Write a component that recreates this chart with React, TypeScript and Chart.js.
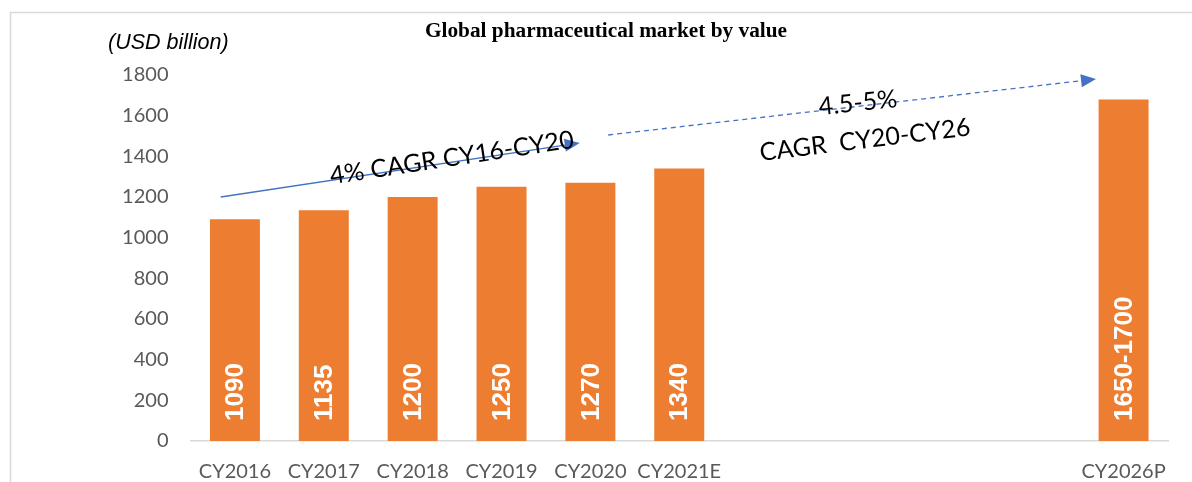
import React, { useEffect, useRef } from "react";
import { Chart, registerables } from "chart.js";

Chart.register(...registerables);

const categories = ["CY2016", "CY2017", "CY2018", "CY2019", "CY2020", "CY2021E", "", "", "", "", "CY2026P"];
const values: (number | null)[] = [1090, 1135, 1200, 1250, 1270, 1340, null, null, null, null, 1680];
const valueLabels = ["1090", "1135", "1200", "1250", "1270", "1340", "", "", "", "", "1650-1700"];
const yTicks = [0, 200, 400, 600, 800, 1000, 1200, 1400, 1600, 1800];
const titleText = "Global pharmaceutical market by value";
const unitText = "(USD billion)";
// arrows in data coordinates: [xIndexStart, yStart, xIndexEnd, yEnd]
const solidArrow = [-0.16, 1200, 3.88, 1466];
const dashedArrow = [4.2, 1505, 9.69, 1780];
const notes = [
  { text: "4% CAGR CY16-CY20", x: 2.44, y: 1392, angle: -8.6 },
  { text: "4.5-5%", x: 7.01, y: 1662, angle: -6 },
  { text: "CAGR  CY20-CY26", x: 7.09, y: 1480, angle: -7 },
];

const BAR = "#ED7D31";
const BLUE = "#4472C4";
const AXIS_TEXT = "#595959";
const SANS = "Lato, 'Open Sans', sans-serif";

const decor = {
  id: "decor",
  afterDatasetsDraw(chart: any) {
    const { ctx } = chart;
    const xs = chart.scales.x;
    const ys = chart.scales.y;
    const px = (i: number) => xs.getPixelForValue(0) + i * (xs.getPixelForValue(1) - xs.getPixelForValue(0));
    ctx.save();
    // frame
    ctx.strokeStyle = "#d9d9d9";
    ctx.lineWidth = 1.5;
    ctx.strokeRect(10.5, 12.5, 1300, 600);
    // title
    ctx.fillStyle = "#000";
    ctx.font = "bold 21.3px 'Liberation Serif', 'Times New Roman', serif";
    ctx.textAlign = "center";
    ctx.textBaseline = "alphabetic";
    ctx.fillText(titleText, 606, 37);
    // unit
    ctx.font = "italic 21.5px 'Liberation Sans', Arial, sans-serif";
    ctx.textAlign = "left";
    ctx.fillText(unitText, 108, 49);
    // value labels
    const meta = chart.getDatasetMeta(0);
    ctx.fillStyle = "#fff";
    ctx.font = "bold 26px 'Liberation Sans', Arial, sans-serif";
    meta.data.forEach((bar: any, i: number) => {
      if (!valueLabels[i]) return;
      ctx.save();
      ctx.translate(bar.x, ys.getPixelForValue(0) - 20);
      ctx.rotate(-Math.PI / 2);
      ctx.textAlign = "left";
      ctx.textBaseline = "middle";
      ctx.fillText(valueLabels[i], 0, 1);
      ctx.restore();
    });
    // arrows
    const drawArrow = (a: number[], dashed: boolean) => {
      const x1 = px(a[0]), y1 = ys.getPixelForValue(a[1]);
      const x2 = px(a[2]), y2 = ys.getPixelForValue(a[3]);
      const ang = Math.atan2(y2 - y1, x2 - x1);
      const head = 15;
      const bx = x2 - head * Math.cos(ang), by = y2 - head * Math.sin(ang);
      ctx.strokeStyle = BLUE;
      ctx.fillStyle = BLUE;
      ctx.lineWidth = 1.3;
      ctx.setLineDash(dashed ? [5, 4] : []);
      ctx.beginPath();
      ctx.moveTo(x1, y1);
      ctx.lineTo(bx, by);
      ctx.stroke();
      ctx.setLineDash([]);
      const w = 6.5;
      ctx.beginPath();
      ctx.moveTo(x2, y2);
      ctx.lineTo(bx + w * Math.sin(ang), by - w * Math.cos(ang));
      ctx.lineTo(bx - w * Math.sin(ang), by + w * Math.cos(ang));
      ctx.closePath();
      ctx.fill();
    };
    drawArrow(solidArrow, false);
    drawArrow(dashedArrow, true);
    // notes
    ctx.fillStyle = "#000";
    ctx.font = `25px ${SANS}`;
    notes.forEach((n) => {
      ctx.save();
      ctx.translate(px(n.x), ys.getPixelForValue(n.y));
      ctx.rotate((n.angle * Math.PI) / 180);
      ctx.textAlign = "center";
      ctx.textBaseline = "middle";
      ctx.fillText(n.text, 0, 0);
      ctx.restore();
    });
    ctx.restore();
  },
};

export default function App() {
  const ref = useRef<HTMLCanvasElement>(null);
  useEffect(() => {
    document.body.style.margin = "0";
    const chart = new Chart(ref.current!, {
      type: "bar",
      data: {
        labels: categories,
        datasets: [
          {
            data: values,
            backgroundColor: BAR,
            categoryPercentage: 1,
            barPercentage: 0.5625,
          },
        ],
      },
      options: {
        animation: false,
        responsive: false,
        layout: { padding: { top: 75, right: 24, left: 0, bottom: 0 } },
        plugins: { legend: { display: false }, tooltip: { enabled: false }, title: { display: false } },
        scales: {
          x: {
            grid: { display: false, drawTicks: false },
            border: { display: true, color: "#d9d9d9", width: 1.5 },
            ticks: { color: AXIS_TEXT, font: { family: SANS, size: 20 }, padding: 19, maxRotation: 0, autoSkip: false },
            afterFit: (s: any) => { s.height = 41; },
          },
          y: {
            min: 0,
            max: 1800,
            afterBuildTicks: (s: any) => { s.ticks = yTicks.map((v) => ({ value: v })); },
            grid: { display: false, drawTicks: false },
            border: { display: false },
            ticks: { color: AXIS_TEXT, font: { family: SANS, size: 20 }, padding: 22, callback: (v: any) => String(v) },
            afterFit: (s: any) => { s.width = 190.5; },
          },
        },
      },
      plugins: [decor],
    });
    return () => chart.destroy();
  }, []);
  return <canvas ref={ref} width={1192} height={482} style={{ display: "block" }} />;
}
